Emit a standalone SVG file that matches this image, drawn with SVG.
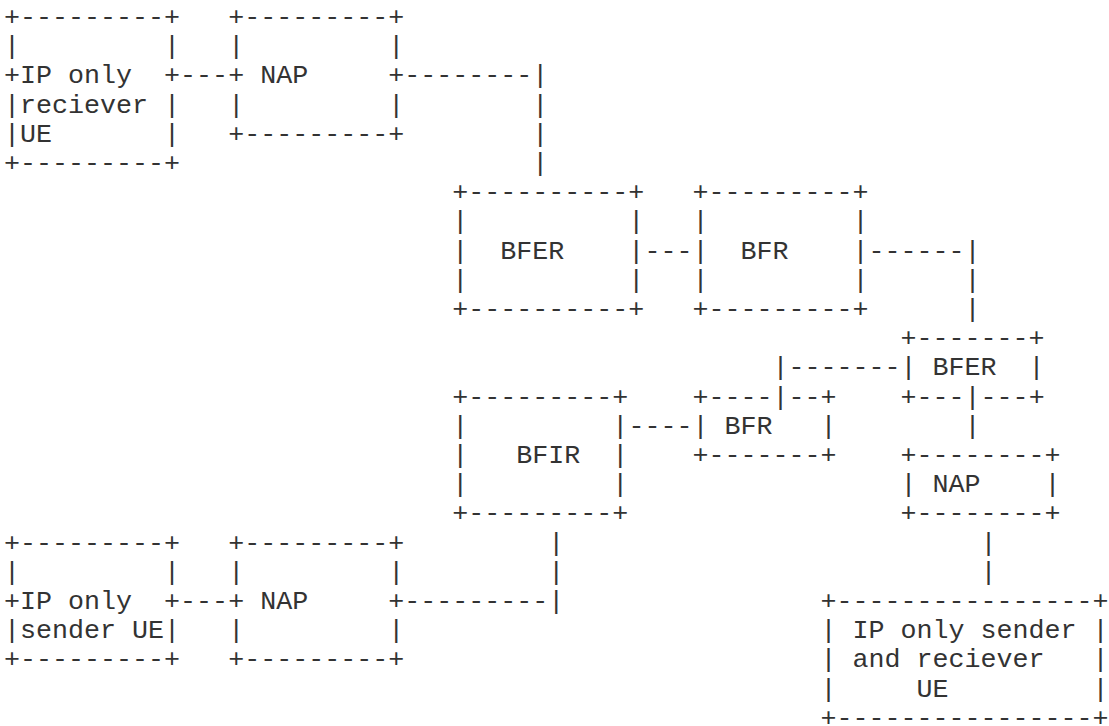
<svg xmlns="http://www.w3.org/2000/svg" width="1109" height="726" viewBox="0 0 1109 726" xml:space="preserve">
<style>
text { font-family: "Liberation Mono", "DejaVu Sans Mono", monospace; font-size: 26.68px; fill: #333333; white-space: pre; }
</style>
<rect x="0" y="0" width="1109" height="726" fill="#ffffff"/>
<g id="node-ip-receiver-ue">
<text x="4" y="25">+---------+</text>
<text x="4" y="54.2">|         |</text>
<text x="4" y="83.4">+IP only  +</text>
<text x="4" y="112.6">|reciever |</text>
<text x="4" y="141.8">|UE       |</text>
<text x="4" y="171">+---------+</text>
</g>
<g id="node-nap-1">
<text x="228.14" y="25">+---------+</text>
<text x="228.14" y="54.2">|         |</text>
<text x="228.14" y="83.4">+ NAP     +</text>
<text x="228.14" y="112.6">|         |</text>
<text x="228.14" y="141.8">+---------+</text>
</g>
<g id="node-bfer-1">
<text x="452.28" y="200.2">+----------+</text>
<text x="452.28" y="229.4">|          |</text>
<text x="452.28" y="258.6">|  BFER    |</text>
<text x="452.28" y="287.8">|          |</text>
<text x="452.28" y="317">+----------+</text>
</g>
<g id="node-bfr-1">
<text x="692.43" y="200.2">+---------+</text>
<text x="692.43" y="229.4">|         |</text>
<text x="692.43" y="258.6">|  BFR    |</text>
<text x="692.43" y="287.8">|         |</text>
<text x="692.43" y="317">+---------+</text>
</g>
<g id="node-bfer-2">
<text x="900.56" y="346.2">+-------+</text>
<text x="900.56" y="375.4">| BFER  |</text>
<text x="900.56" y="404.6">+---</text>
<text x="980.61" y="404.6">---+</text>
</g>
<g id="node-bfir">
<text x="452.28" y="404.6">+---------+</text>
<text x="452.28" y="433.8">|         |</text>
<text x="452.28" y="463">|   BFIR  |</text>
<text x="452.28" y="492.2">|         |</text>
<text x="452.28" y="521.4">+---------+</text>
</g>
<g id="node-bfr-2">
<text x="692.43" y="404.6">+----</text>
<text x="788.49" y="404.6">--+</text>
<text x="692.43" y="433.8">| BFR   |</text>
<text x="692.43" y="463">+-------+</text>
</g>
<g id="node-nap-2">
<text x="900.56" y="463">+--------+</text>
<text x="900.56" y="492.2">| NAP    |</text>
<text x="900.56" y="521.4">+--------+</text>
</g>
<g id="node-ip-sender-ue">
<text x="4" y="550.6">+---------+</text>
<text x="4" y="579.8">|         |</text>
<text x="4" y="609">+IP only  +</text>
<text x="4" y="638.2">|sender UE|</text>
<text x="4" y="667.4">+---------+</text>
</g>
<g id="node-nap-3">
<text x="228.14" y="550.6">+---------+</text>
<text x="228.14" y="579.8">|         |</text>
<text x="228.14" y="609">+ NAP     +</text>
<text x="228.14" y="638.2">|         |</text>
<text x="228.14" y="667.4">+---------+</text>
</g>
<g id="node-ip-sender-receiver-ue">
<text x="820.51" y="609">+----------------+</text>
<text x="820.51" y="638.2">| IP only sender |</text>
<text x="820.51" y="667.4">| and reciever   |</text>
<text x="820.51" y="696.6">|     UE         |</text>
<text x="820.51" y="725.8">+----------------+</text>
</g>
<g id="connectors">
<text x="180.11" y="83.4">---</text>
<text x="404.25" y="83.4">--------|</text>
<text x="532.33" y="112.6">|</text>
<text x="532.33" y="141.8">|</text>
<text x="532.33" y="171">|</text>
<text x="644.4" y="258.6">---</text>
<text x="868.54" y="258.6">------|</text>
<text x="964.6" y="287.8">|</text>
<text x="964.6" y="317">|</text>
<text x="772.48" y="375.4">|-------</text>
<text x="772.48" y="404.6">|</text>
<text x="964.6" y="404.6">|</text>
<text x="964.6" y="433.8">|</text>
<text x="628.39" y="433.8">----</text>
<text x="980.61" y="550.6">|</text>
<text x="980.61" y="579.8">|</text>
<text x="548.34" y="550.6">|</text>
<text x="548.34" y="579.8">|</text>
<text x="404.25" y="609">---------|</text>
<text x="180.11" y="609">---</text>
</g>
</svg>
